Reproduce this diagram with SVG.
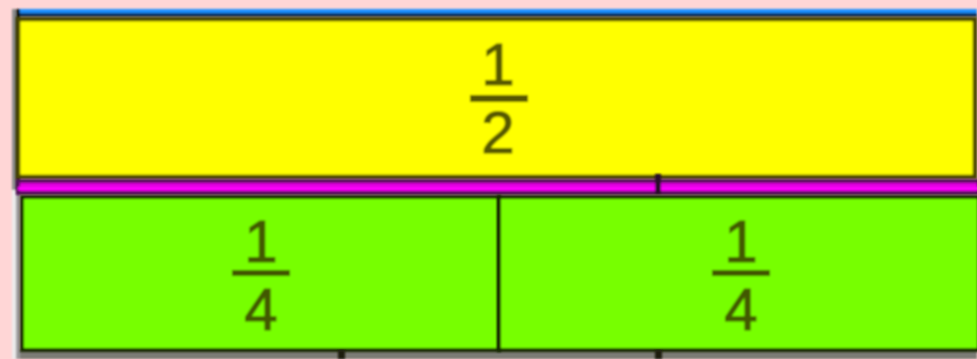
<svg xmlns="http://www.w3.org/2000/svg" width="977" height="359" viewBox="0 0 977 359">
<defs>
<style>
.num{font-family:"Liberation Sans",Arial,sans-serif;font-size:60px;fill:#3a3c00;stroke:#3a3c00;stroke-width:1.2;text-anchor:middle;opacity:0.85}
.bar{fill:#3a3a00;opacity:0.85}
.soft{filter:url(#blur)}
</style>
<filter id="blur" x="-10%" y="-10%" width="120%" height="120%"><feGaussianBlur stdDeviation="0.9"/></filter>
</defs>
<rect x="0" y="0" width="977" height="359" fill="#FFD6D6"/>
<g id="frame" class="soft">
<rect x="12" y="9" width="4" height="181" fill="#8a8a8a"/>
<rect x="12" y="190" width="4" height="169" fill="#ececec"/>
<rect x="16" y="9" width="4" height="181" fill="#0a0a00"/>
<rect x="16" y="190" width="4" height="169" fill="#9a9a9a"/>
<rect x="20" y="9" width="957" height="4" fill="#1E90FF"/>
<rect x="20" y="13" width="957" height="4" fill="#0A3060"/>
<rect x="20" y="350" width="957" height="9" fill="#7c7c74"/>
</g>
<g id="half" class="soft">
<rect x="18" y="19" width="957" height="158" fill="#FFFF00" stroke="#4a4400" stroke-width="4.5"/>
<text class="num" x="498" y="85">1</text>
<rect class="bar" x="470" y="95" width="58" height="7"/>
<text class="num" x="498" y="153">2</text>
</g>
<g id="magenta" class="soft">
<rect x="18" y="181" width="961" height="12" fill="#E000E0" stroke="#55105A" stroke-width="4"/>
<rect x="18" y="187" width="961" height="3" fill="#FF00FF"/>
<rect x="655" y="174" width="6" height="21" fill="#2a0a2a"/>
</g>
<g id="quarter1" class="soft">
<rect x="22" y="197" width="477" height="153" fill="#77FF00" stroke="#142800" stroke-width="4"/>
<text class="num" x="261" y="262">1</text>
<rect class="bar" x="232" y="270" width="58" height="6"/>
<text class="num" x="261" y="330">4</text>
</g>
<g id="quarter2" class="soft">
<rect x="499" y="197" width="480" height="153" fill="#77FF00" stroke="#142800" stroke-width="4"/>
<text class="num" x="741" y="262">1</text>
<rect class="bar" x="712" y="270" width="58" height="6"/>
<text class="num" x="741" y="330">4</text>
</g>
<g id="connectors" class="soft">
<rect x="338" y="350" width="7" height="9" fill="#1a1a10"/>
<rect x="655" y="350" width="7" height="9" fill="#1a1a10"/>
</g>
</svg>
